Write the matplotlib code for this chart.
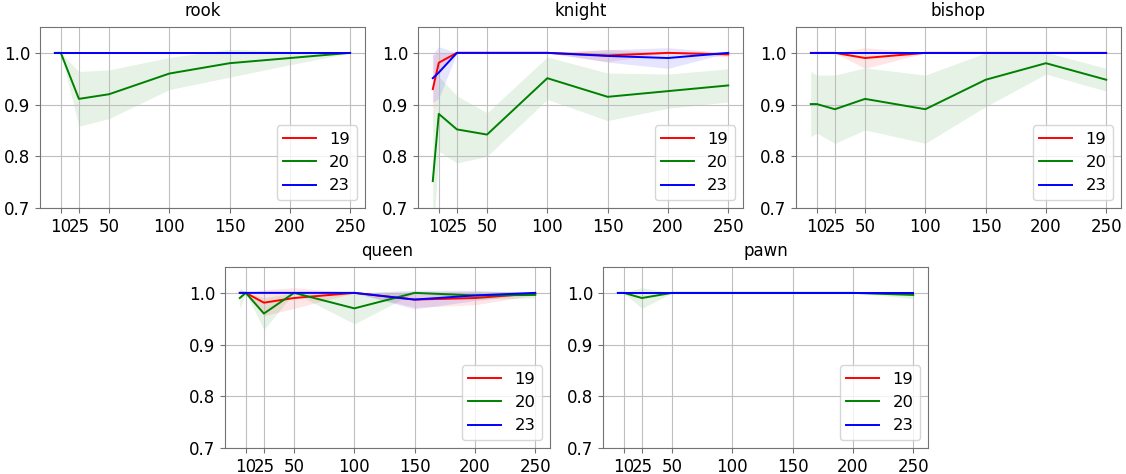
import numpy as np
import matplotlib
matplotlib.use('Agg')
import matplotlib.pyplot as plt

x = [5, 10, 25, 50, 100, 150, 200, 250]
xticks = [10, 25, 50, 100, 150, 200, 250]
sizes = ['19', '20', '23']
colors = ['r', 'g', 'b']

# mean / std for each piece, per model size (19, 20, 23)
rook_mean = [
    [1.0, 1.0, 1.0, 1.0, 1.0, 1.0, 1.0, 1.0],
    [1.0, 1.0, 0.911, 0.92, 0.96, 0.98, 0.99, 1.0],
    [1.0, 1.0, 1.0, 1.0, 1.0, 1.0, 1.0, 1.0],
]
rook_std = [
    [0, 0, 0, 0, 0, 0, 0, 0],
    [0, 0, 0.053, 0.047, 0.031, 0.027, 0.013, 0],
    [0, 0, 0, 0, 0, 0, 0, 0],
]

knight_mean = [
    [0.93, 0.981, 1.0, 1.0, 1.0, 0.995, 1.0, 0.997],
    [0.752, 0.882, 0.852, 0.842, 0.951, 0.915, 0.926, 0.937],
    [0.951, 0.962, 1.0, 1.0, 1.0, 0.994, 0.99, 1.0],
]
knight_std = [
    [0.065, 0.02, 0, 0, 0, 0.012, 0, 0.005],
    [0.12, 0.072, 0.065, 0.042, 0.041, 0.046, 0.033, 0.032],
    [0.047, 0.05, 0, 0, 0, 0.012, 0.02, 0],
]

bishop_mean = [
    [1.0, 1.0, 1.0, 0.99, 1.0, 1.0, 1.0, 1.0],
    [0.901, 0.901, 0.891, 0.911, 0.891, 0.948, 0.98, 0.948],
    [1.0, 1.0, 1.0, 1.0, 1.0, 1.0, 1.0, 1.0],
]
bishop_std = [
    [0, 0, 0, 0.02, 0, 0, 0, 0],
    [0.063, 0.056, 0.066, 0.06, 0.066, 0.052, 0.021, 0.022],
    [0, 0, 0, 0, 0, 0, 0, 0],
]

queen_mean = [
    [1.0, 1.0, 0.981, 0.99, 1.0, 0.987, 0.99, 0.999],
    [0.99, 1.0, 0.96, 1.0, 0.97, 1.0, 0.995, 0.996],
    [1.0, 1.0, 1.0, 1.0, 1.0, 0.987, 0.995, 1.0],
]
queen_std = [
    [0, 0, 0.025, 0.02, 0, 0.015, 0.013, 0.003],
    [0.02, 0, 0.031, 0, 0.03, 0, 0.007, 0.006],
    [0, 0, 0, 0, 0, 0.018, 0.01, 0],
]

pawn_mean = [
    [1.0, 1.0, 1.0, 1.0, 1.0, 1.0, 1.0, 1.0],
    [1.0, 1.0, 0.99, 1.0, 1.0, 1.0, 1.0, 0.996],
    [1.0, 1.0, 1.0, 1.0, 1.0, 1.0, 1.0, 1.0],
]
pawn_std = [
    [0, 0, 0, 0, 0, 0, 0, 0],
    [0, 0, 0.02, 0, 0, 0, 0, 0.007],
    [0, 0, 0, 0, 0, 0, 0, 0],
]

pieces = ['rook', 'knight', 'bishop', 'queen', 'pawn']
means = [rook_mean, knight_mean, bishop_mean, queen_mean, pawn_mean]
stds = [rook_std, knight_std, bishop_std, queen_std, pawn_std]

W, H = 1126, 474
fig = plt.figure(figsize=(W / 100, H / 100), dpi=100)

# axes boxes in pixels: left, top
boxes = [(40, 27), (418, 27), (796, 27), (225, 267), (603, 267)]
aw, ah = 325, 181

for (left, top), name, m, s in zip(boxes, pieces, means, stds):
    ax = fig.add_axes([left / W, (H - top - ah) / H, aw / W, ah / H])
    for mean, std, c, lab in zip(m, s, colors, sizes):
        mean = np.array(mean)
        std = np.array(std)
        ax.plot(x, mean, c=c, label=lab, lw=1.4)
        ax.fill_between(x, mean - std, mean + std, color=c, alpha=0.1, lw=0)
    ax.set_ylim(0.7, 1.05)
    ax.set_xticks(xticks)
    ax.set_yticks([0.7, 0.8, 0.9, 1.0])
    ax.grid(True, color='0.75', lw=0.8)
    ax.tick_params(labelsize=12, color='0.45')
    for sp in ax.spines.values():
        sp.set_color('0.45')
    ax.set_title(name, fontsize=12, pad=8)
    ax.legend(loc='lower right', fontsize=11.8)

fig.savefig('out.png', dpi=100)
